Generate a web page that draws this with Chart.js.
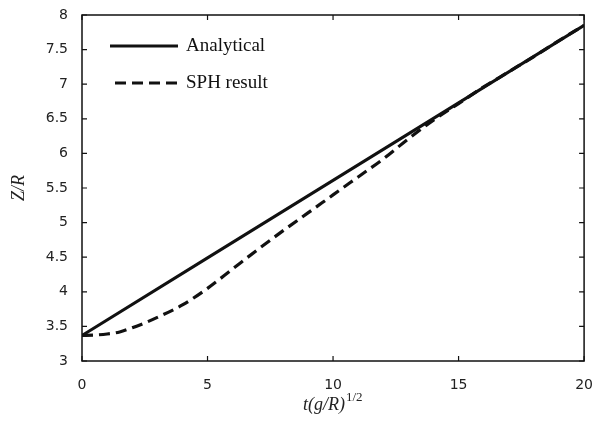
<!DOCTYPE html>
<html>
<head>
<meta charset="utf-8">
<script src="https://cdn.jsdelivr.net/npm/chart.js@4.4.1/dist/chart.umd.min.js"></script>
<style>
  html, body { margin: 0; padding: 0; background: #fff; }
  #wrap { width: 601px; height: 422px; }
</style>
</head>
<body>
<div id="wrap"><canvas id="chart"></canvas></div>
<script>
// ==================== DATOS ====================
const tiempoAnalitico = [0, 5, 10, 15, 20];
const zAnalitico = [3.37, 4.49, 5.61, 6.73, 7.85];

const tiempoSPH = [0, 0.5, 1, 1.5, 2, 2.5, 3, 4, 5, 6, 7, 8, 9, 10, 11, 12, 13, 14, 15, 16, 17, 18, 19, 20];
const zSPH = [3.37, 3.375, 3.39, 3.42, 3.48, 3.55, 3.63, 3.81, 4.05, 4.33, 4.61, 4.88, 5.14, 5.40, 5.66, 5.92, 6.21, 6.48, 6.72, 6.96, 7.18, 7.40, 7.63, 7.85];

const ticksX = [0, 5, 10, 15, 20];
const ticksY = [3, 3.5, 4, 4.5, 5, 5.5, 6, 6.5, 7, 7.5, 8];
const etiquetas = ['Analytical', 'SPH result'];

const toPts = (xs, ys) => xs.map((x, i) => ({ x, y: ys[i] }));

// ==================== MARCO, TICKS, LEYENDA ====================
const marcoPlugin = {
    id: 'marco',
    afterDraw(chart) {
        const ctx = chart.ctx;
        const a = chart.chartArea;
        const sx = chart.scales.x, sy = chart.scales.y;
        ctx.save();
        ctx.strokeStyle = '#111';
        ctx.lineWidth = 1.5;
        ctx.strokeRect(a.left, a.top, a.right - a.left, a.bottom - a.top);
        ctx.lineWidth = 1.2;
        const len = 5;
        ticksX.forEach(v => {
            const px = sx.getPixelForValue(v);
            ctx.beginPath();
            ctx.moveTo(px, a.bottom); ctx.lineTo(px, a.bottom - len);
            ctx.moveTo(px, a.top); ctx.lineTo(px, a.top + len);
            ctx.stroke();
        });
        ticksY.forEach(v => {
            const py = sy.getPixelForValue(v);
            ctx.beginPath();
            ctx.moveTo(a.left, py); ctx.lineTo(a.left + len, py);
            ctx.moveTo(a.right, py); ctx.lineTo(a.right - len, py);
            ctx.stroke();
        });

        // leyenda
        ctx.fillStyle = '#111';
        ctx.font = '19px "Liberation Serif", serif';
        ctx.textBaseline = 'middle';
        ctx.textAlign = 'left';
        chart.data.datasets.forEach((ds, i) => {
            const y = a.top + 31 + i * 37;
            ctx.beginPath();
            ctx.lineWidth = 3;
            ctx.strokeStyle = '#111';
            ctx.setLineDash(ds.borderDash || []);
            ctx.moveTo(a.left + (i === 0 ? 28 : 33), y);
            ctx.lineTo(a.left + 96, y);
            ctx.stroke();
            ctx.setLineDash([]);
            ctx.fillText(ds.label, a.left + 104, y);
        });

        // títulos de ejes
        ctx.fillStyle = '#222';
        ctx.font = 'italic 18px "Liberation Serif", serif';
        ctx.textBaseline = 'alphabetic';
        const base = 410;
        const t1 = 't(g/R)';
        const w1 = ctx.measureText(t1).width;
        const x0 = 303;
        ctx.fillText(t1, x0, base);
        ctx.font = '13px "Liberation Serif", serif';
        ctx.fillText('1/2', x0 + w1 + 1, base - 9);

        ctx.translate(24, 188);
        ctx.rotate(-Math.PI / 2);
        ctx.textAlign = 'center';
        ctx.font = 'italic 18px "Liberation Serif", serif';
        ctx.fillText('Z/R', 0, 0);
        ctx.restore();
    }
};

const fuenteTicks = { family: '"DejaVu Sans", sans-serif', size: 14 };

const ctx = document.getElementById('chart').getContext('2d');
window.graficoZ = new Chart(ctx, {
    type: 'scatter',
    data: {
        datasets: [{
            label: etiquetas[0],
            data: toPts(tiempoAnalitico, zAnalitico),
            showLine: true,
            borderColor: '#111',
            borderWidth: 3,
            pointRadius: 0,
            tension: 0
        }, {
            label: etiquetas[1],
            data: toPts(tiempoSPH, zSPH),
            showLine: true,
            borderColor: '#111',
            borderWidth: 3.2,
            borderDash: [11, 6],
            pointRadius: 0,
            cubicInterpolationMode: 'monotone'
        }]
    },
    options: {
        responsive: true,
        maintainAspectRatio: false,
        animation: false,
        layout: { padding: { left: 0, right: 11, top: 15, bottom: 0 } },
        plugins: { legend: { display: false }, tooltip: { enabled: false } },
        scales: {
            x: {
                type: 'linear', min: 0, max: 20,
                grid: { display: false },
                border: { display: false },
                afterBuildTicks: s => { s.ticks = ticksX.map(v => ({ value: v })); },
                afterFit: s => { s.height = 61; },
                ticks: { padding: 8, color: '#222', font: fuenteTicks, callback: v => String(v) }
            },
            y: {
                min: 3, max: 8,
                grid: { display: false },
                border: { display: false },
                afterBuildTicks: s => { s.ticks = ticksY.map(v => ({ value: v })); },
                afterFit: s => { s.width = 82; },
                ticks: { padding: 6, color: '#222', font: fuenteTicks, callback: v => String(v) }
            }
        }
    },
    plugins: [marcoPlugin]
});
</script>
</body>
</html>
